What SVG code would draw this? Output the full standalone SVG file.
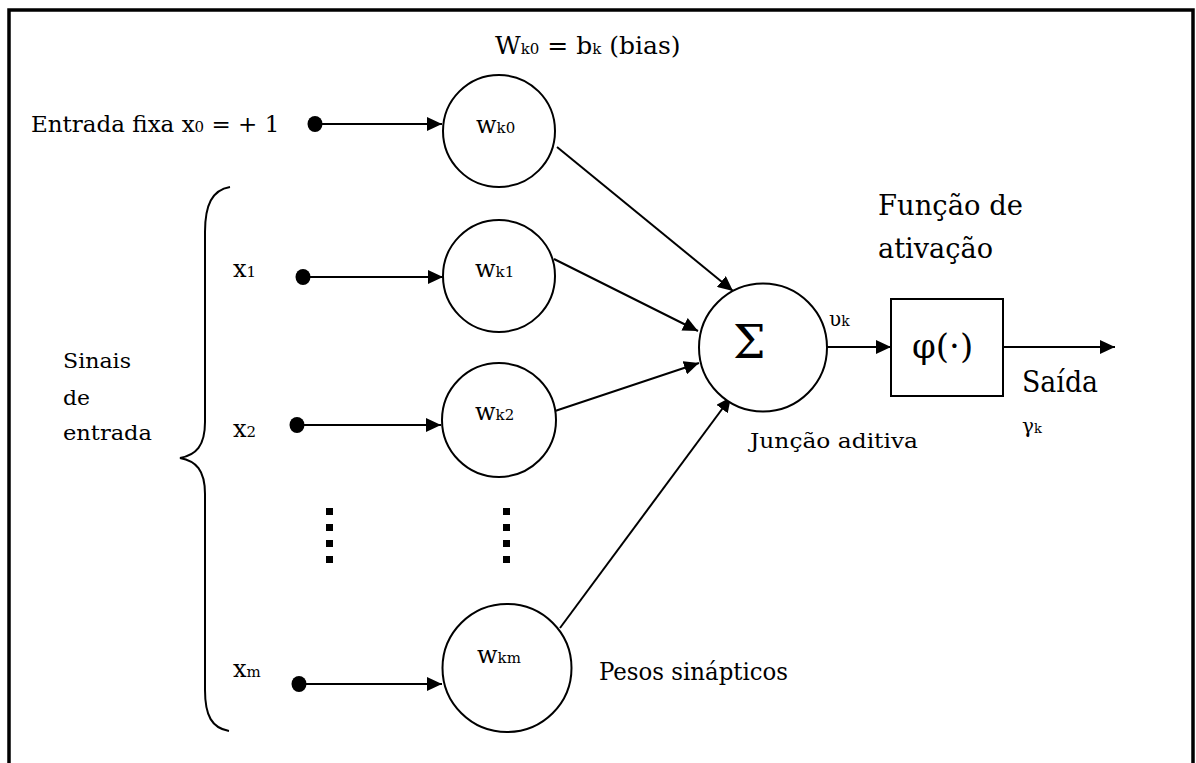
<svg xmlns="http://www.w3.org/2000/svg" width="1196" height="763" viewBox="0 0 1196 763">
<style>
text{font-family:'DejaVu Serif','Liberation Serif',serif;fill:#000}
.node{fill:#fff;stroke:#000;stroke-width:2}
.ln{fill:none;stroke:#000;stroke-width:2}
.dot{fill:#000}
.sm{font-size:15px}
</style>
<defs>
<marker id="ah" markerUnits="userSpaceOnUse" markerWidth="16" markerHeight="14" refX="15" refY="7" orient="auto">
<path d="M0,0 L15,7 L0,14 z" fill="#000"/>
</marker>
</defs>
<rect x="0" y="0" width="1196" height="763" fill="#fff"/>
<rect id="frame" x="9" y="10" width="1184" height="800" fill="none" stroke="#000" stroke-width="3.5"/>

<g id="connectors">
<line class="ln" x1="315" y1="124" x2="442" y2="124" marker-end="url(#ah)"/>
<line class="ln" x1="303" y1="277" x2="443" y2="277" marker-end="url(#ah)"/>
<line class="ln" x1="297" y1="425" x2="441" y2="425" marker-end="url(#ah)"/>
<line class="ln" x1="299" y1="684" x2="442" y2="684" marker-end="url(#ah)"/>
<line class="ln" x1="557" y1="147" x2="733" y2="291" marker-end="url(#ah)"/>
<line class="ln" x1="554" y1="259" x2="698" y2="331" marker-end="url(#ah)"/>
<line class="ln" x1="555" y1="411" x2="699" y2="363" marker-end="url(#ah)"/>
<line class="ln" x1="560" y1="628" x2="731" y2="397" marker-end="url(#ah)"/>
<line class="ln" x1="827" y1="347" x2="891" y2="347" marker-end="url(#ah)"/>
<line class="ln" x1="1003" y1="347" x2="1115" y2="347" marker-end="url(#ah)"/>
<ellipse class="dot" cx="315" cy="124" rx="7.5" ry="8"/>
<ellipse class="dot" cx="303" cy="277" rx="7.5" ry="8"/>
<ellipse class="dot" cx="297" cy="425" rx="7.5" ry="8"/>
<ellipse class="dot" cx="299" cy="684" rx="7.5" ry="8"/>
</g>

<g id="brace">
<path class="ln" d="M230,187 C212,190 205,205 205,232 L205,422 C205,446 196,455 180,458 C196,461 205,470 205,494 L205,690 C205,716 212,728 229,731"/>
</g>

<g id="dots">
<rect x="326" y="508" width="7" height="7"/>
<rect x="326" y="524" width="7" height="7"/>
<rect x="326" y="540" width="7" height="7"/>
<rect x="326" y="556" width="7" height="7"/>
<rect x="503" y="508" width="7" height="7"/>
<rect x="503" y="524" width="7" height="7"/>
<rect x="503" y="540" width="7" height="7"/>
<rect x="503" y="556" width="7" height="7"/>
</g>

<g id="labels">
<text x="31" y="132" font-size="23">Entrada fixa x<tspan class="sm">0</tspan> = + 1</text>
<text x="495" y="54" font-size="25">W<tspan class="sm">k0</tspan> = b<tspan class="sm">k</tspan> (bias)</text>
<text x="233" y="277" font-size="24">x<tspan class="sm">1</tspan></text>
<text x="233" y="437" font-size="24">x<tspan class="sm">2</tspan></text>
<text x="233" y="677" font-size="24">x<tspan class="sm">m</tspan></text>
<text x="63" y="368" font-size="21" textLength="68" lengthAdjust="spacingAndGlyphs">Sinais</text>
<text x="63" y="405" font-size="21" textLength="27" lengthAdjust="spacingAndGlyphs">de</text>
<text x="63" y="440" font-size="21" textLength="89" lengthAdjust="spacingAndGlyphs">entrada</text>
<text x="599" y="680" font-size="24" textLength="189" lengthAdjust="spacingAndGlyphs">Pesos sinápticos</text>
<text x="750" y="448" font-size="21" textLength="168" lengthAdjust="spacingAndGlyphs">Junção aditiva</text>
<text x="878" y="215" font-size="27" textLength="145" lengthAdjust="spacingAndGlyphs">Função de</text>
<text x="878" y="258" font-size="27" textLength="115" lengthAdjust="spacingAndGlyphs">ativação</text>
<text x="1022" y="392" font-size="29" textLength="76" lengthAdjust="spacingAndGlyphs">Saída</text>
<text x="1022" y="433" font-size="20">γ<tspan font-size="13">k</tspan></text>
<text x="829" y="326" font-size="20">υ<tspan font-size="14">k</tspan></text>
</g>

<g id="wk0"><circle class="node" cx="499" cy="131" r="56"/><text x="476" y="133" font-size="24">w<tspan class="sm">k0</tspan></text></g>
<g id="wk1"><circle class="node" cx="499" cy="276" r="56"/><text x="475" y="277" font-size="24">w<tspan class="sm">k1</tspan></text></g>
<g id="wk2"><circle class="node" cx="499" cy="420" r="57"/><text x="475" y="420" font-size="24">w<tspan class="sm">k2</tspan></text></g>
<g id="wkm"><ellipse class="node" cx="507" cy="668" rx="64.5" ry="64"/><text x="477" y="663" font-size="24">w<tspan class="sm">km</tspan></text></g>
<g id="sum"><circle class="node" cx="763" cy="347.5" r="64"/><text x="733" y="358" font-size="46">Σ</text></g>
<g id="phi"><rect class="node" x="891" y="299" width="112" height="97"/><text x="912" y="358" font-size="34">φ(·)</text></g>
</svg>
